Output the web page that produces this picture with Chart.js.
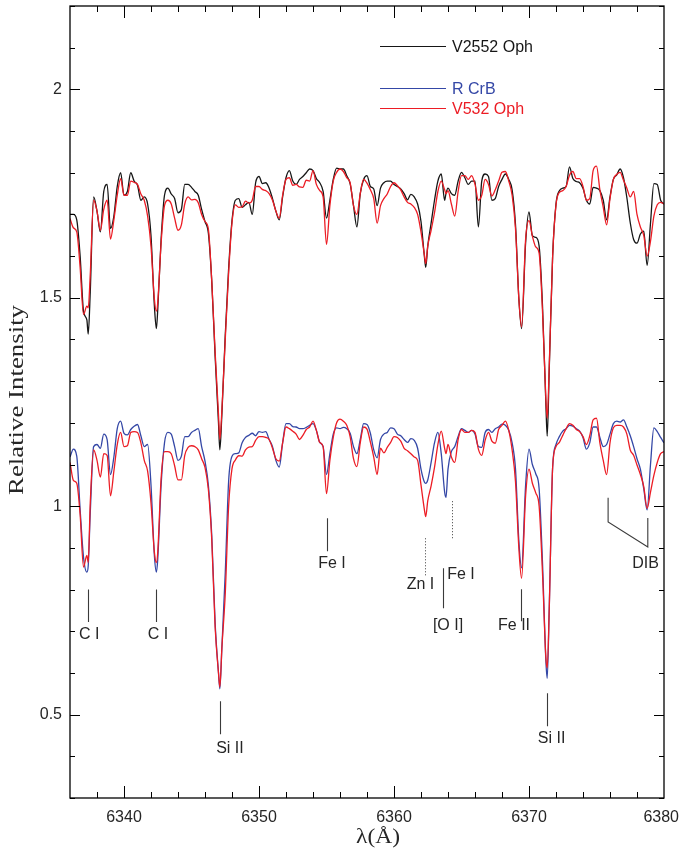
<!DOCTYPE html>
<html>
<head>
<meta charset="utf-8">
<script src="https://cdn.jsdelivr.net/npm/chart.js@4/dist/chart.umd.min.js"></script>
<style>
  html, body { margin: 0; padding: 0; background: #fff; }
  #wrap { width: 680px; height: 852px; }
</style>
</head>
<body>
<div id="wrap"><canvas id="spectrumChart"></canvas></div>
<script>
// wavelength grid (Angstrom)
const wavelength = [
  6336.0, 6336.25, 6336.5, 6336.75, 6337.0, 6337.25, 6337.35, 6337.5, 6337.75, 6338.0,
  6338.25, 6338.5, 6338.75, 6339.0, 6339.25, 6339.5, 6339.75, 6340.0, 6340.25, 6340.5,
  6340.75, 6341.0, 6341.25, 6341.5, 6341.75, 6342.0, 6342.25, 6342.4, 6342.5, 6342.75,
  6343.0, 6343.25, 6343.5, 6343.75, 6344.0, 6344.25, 6344.5, 6344.75, 6345.0, 6345.25,
  6345.5, 6345.75, 6346.0, 6346.25, 6346.5, 6346.75, 6347.0, 6347.1, 6347.25, 6347.5,
  6347.75, 6348.0, 6348.25, 6348.5, 6348.75, 6349.0, 6349.25, 6349.5, 6349.75, 6350.0,
  6350.25, 6350.5, 6350.75, 6351.0, 6351.25, 6351.5, 6351.75, 6352.0, 6352.25, 6352.5,
  6352.75, 6353.0, 6353.25, 6353.5, 6353.75, 6354.0, 6354.25, 6354.5, 6354.75, 6355.0,
  6355.25, 6355.5, 6355.75, 6356.0, 6356.25, 6356.5, 6356.75, 6357.0, 6357.25, 6357.5,
  6357.75, 6358.0, 6358.25, 6358.5, 6358.75, 6359.0, 6359.25, 6359.5, 6359.75, 6360.0,
  6360.25, 6360.5, 6360.75, 6361.0, 6361.25, 6361.5, 6361.75, 6362.0, 6362.25, 6362.35,
  6362.5, 6362.75, 6363.0, 6363.25, 6363.5, 6363.75, 6363.85, 6364.0, 6364.25, 6364.5,
  6364.75, 6365.0, 6365.25, 6365.5, 6365.75, 6366.0, 6366.25, 6366.5, 6366.75, 6367.0,
  6367.25, 6367.5, 6367.75, 6368.0, 6368.25, 6368.5, 6368.75, 6369.0, 6369.25, 6369.45,
  6369.75, 6370.0, 6370.25, 6370.5, 6370.75, 6371.0, 6371.25, 6371.35, 6371.5, 6371.75,
  6372.0, 6372.25, 6372.5, 6372.75, 6373.0, 6373.25, 6373.5, 6373.75, 6374.0, 6374.25,
  6374.5, 6374.75, 6375.0, 6375.25, 6375.5, 6375.75, 6376.0, 6376.25, 6376.5, 6376.75,
  6377.0, 6377.25, 6377.5, 6377.75, 6378.0, 6378.25, 6378.5, 6378.75, 6379.0, 6379.25,
  6379.5, 6379.75, 6380.0
];

// upper pair (offset spectra)
const v2552Oph = [
  1.700, 1.700, 1.687, 1.600, 1.468, 1.447, 1.413, 1.514, 1.742, 1.708,
  1.658, 1.755, 1.772, 1.666, 1.696, 1.767, 1.800, 1.746, 1.755, 1.800,
  1.780, 1.770, 1.734, 1.742, 1.725, 1.649, 1.481, 1.426, 1.472, 1.641,
  1.746, 1.763, 1.749, 1.738, 1.704, 1.712, 1.772, 1.772, 1.765, 1.755,
  1.746, 1.712, 1.683, 1.655, 1.540, 1.360, 1.200, 1.135, 1.220, 1.410,
  1.570, 1.685, 1.734, 1.738, 1.717, 1.723, 1.729, 1.700, 1.776, 1.791,
  1.774, 1.776, 1.763, 1.738, 1.708, 1.687, 1.742, 1.788, 1.805, 1.780,
  1.772, 1.784, 1.791, 1.800, 1.809, 1.805, 1.786, 1.776, 1.755, 1.691,
  1.734, 1.784, 1.811, 1.809, 1.809, 1.793, 1.774, 1.721, 1.670, 1.750,
  1.784, 1.793, 1.767, 1.761, 1.721, 1.763, 1.776, 1.780, 1.780, 1.772,
  1.767, 1.761, 1.750, 1.735, 1.748, 1.742, 1.725, 1.683, 1.600, 1.573,
  1.624, 1.679, 1.734, 1.780, 1.797, 1.734, 1.750, 1.763, 1.750, 1.746,
  1.780, 1.801, 1.788, 1.772, 1.780, 1.780, 1.670, 1.780, 1.797, 1.791,
  1.734, 1.738, 1.767, 1.784, 1.797, 1.784, 1.759, 1.675, 1.497, 1.426,
  1.632, 1.706, 1.649, 1.645, 1.624, 1.481, 1.245, 1.168, 1.329, 1.599,
  1.725, 1.757, 1.763, 1.767, 1.814, 1.786, 1.779, 1.776, 1.763, 1.734,
  1.725, 1.765, 1.763, 1.757, 1.734, 1.687, 1.742, 1.784, 1.795, 1.809,
  1.788, 1.740, 1.680, 1.640, 1.631, 1.653, 1.660, 1.578, 1.679, 1.774,
  1.772, 1.734, 1.725
];

const v532OphTop = [
  1.690, 1.668, 1.658, 1.573, 1.460, 1.480, 1.476, 1.556, 1.734, 1.708,
  1.662, 1.712, 1.734, 1.641, 1.687, 1.746, 1.786, 1.746, 1.746, 1.780,
  1.777, 1.772, 1.749, 1.734, 1.696, 1.624, 1.497, 1.468, 1.489, 1.632,
  1.721, 1.734, 1.725, 1.691, 1.662, 1.675, 1.725, 1.742, 1.735, 1.736,
  1.728, 1.700, 1.683, 1.665, 1.540, 1.370, 1.220, 1.160, 1.230, 1.400,
  1.560, 1.680, 1.723, 1.717, 1.718, 1.732, 1.727, 1.734, 1.767, 1.767,
  1.760, 1.757, 1.750, 1.734, 1.708, 1.691, 1.746, 1.784, 1.788, 1.770,
  1.772, 1.766, 1.765, 1.782, 1.780, 1.805, 1.772, 1.757, 1.742, 1.628,
  1.721, 1.780, 1.801, 1.809, 1.803, 1.788, 1.776, 1.721, 1.700, 1.750,
  1.784, 1.775, 1.759, 1.738, 1.679, 1.721, 1.738, 1.749, 1.767, 1.776,
  1.769, 1.759, 1.742, 1.729, 1.725, 1.717, 1.700, 1.658, 1.603, 1.582,
  1.624, 1.662, 1.704, 1.755, 1.780, 1.759, 1.750, 1.757, 1.725, 1.696,
  1.755, 1.793, 1.793, 1.784, 1.793, 1.772, 1.734, 1.746, 1.784, 1.772,
  1.744, 1.759, 1.780, 1.801, 1.803, 1.780, 1.746, 1.666, 1.497, 1.430,
  1.641, 1.685, 1.648, 1.622, 1.607, 1.468, 1.257, 1.211, 1.337, 1.599,
  1.723, 1.753, 1.757, 1.767, 1.794, 1.803, 1.786, 1.786, 1.767, 1.734,
  1.738, 1.805, 1.816, 1.759, 1.717, 1.675, 1.738, 1.784, 1.796, 1.801,
  1.782, 1.763, 1.742, 1.755, 1.700, 1.670, 1.650, 1.600, 1.636, 1.696,
  1.723, 1.729, 1.725
];

// lower pair
const rCrB = [
  1.118, 1.137, 1.120, 0.992, 0.878, 0.842, 0.857, 0.983, 1.143, 1.148,
  1.139, 1.173, 1.160, 1.076, 1.118, 1.186, 1.204, 1.175, 1.171, 1.184,
  1.192, 1.196, 1.169, 1.143, 1.148, 1.051, 0.882, 0.842, 0.873, 1.051,
  1.152, 1.177, 1.173, 1.143, 1.110, 1.120, 1.167, 1.167, 1.177, 1.182,
  1.186, 1.143, 1.108, 1.050, 0.930, 0.720, 0.600, 0.562, 0.660, 0.840,
  1.060, 1.120, 1.126, 1.128, 1.152, 1.165, 1.170, 1.175, 1.169, 1.179,
  1.177, 1.179, 1.160, 1.143, 1.110, 1.094, 1.152, 1.198, 1.198, 1.191,
  1.190, 1.186, 1.186, 1.189, 1.194, 1.198, 1.182, 1.153, 1.143, 1.076,
  1.126, 1.173, 1.188, 1.186, 1.189, 1.186, 1.175, 1.143, 1.126, 1.160,
  1.198, 1.196, 1.175, 1.135, 1.116, 1.160, 1.173, 1.177, 1.188, 1.186,
  1.173, 1.169, 1.160, 1.153, 1.162, 1.158, 1.139, 1.089, 1.058, 1.055,
  1.063, 1.105, 1.152, 1.177, 1.126, 1.034, 1.021, 1.089, 1.131, 1.143,
  1.167, 1.186, 1.182, 1.177, 1.182, 1.173, 1.143, 1.141, 1.177, 1.184,
  1.177, 1.186, 1.190, 1.197, 1.194, 1.182, 1.152, 1.089, 0.916, 0.852,
  1.051, 1.137, 1.100, 1.078, 1.042, 0.865, 0.629, 0.587, 0.755, 1.093,
  1.148, 1.167, 1.180, 1.186, 1.194, 1.192, 1.186, 1.180, 1.165, 1.137,
  1.152, 1.190, 1.190, 1.165, 1.143, 1.148, 1.173, 1.198, 1.204, 1.202,
  1.207, 1.190, 1.169, 1.143, 1.114, 1.089, 1.042, 0.991, 1.100, 1.188,
  1.179, 1.165, 1.152
];

const v532OphBottom = [
  1.105, 1.062, 1.055, 0.980, 0.854, 0.882, 0.865, 1.008, 1.135, 1.110,
  1.070, 1.126, 1.122, 1.025, 1.084, 1.148, 1.177, 1.143, 1.145, 1.177,
  1.179, 1.177, 1.152, 1.110, 1.084, 1.008, 0.890, 0.865, 0.890, 1.067,
  1.131, 1.131, 1.126, 1.097, 1.063, 1.063, 1.122, 1.141, 1.145, 1.143,
  1.135, 1.114, 1.093, 1.040, 0.920, 0.710, 0.600, 0.566, 0.660, 0.790,
  1.000, 1.090, 1.111, 1.121, 1.120, 1.135, 1.142, 1.143, 1.158, 1.167,
  1.167, 1.165, 1.160, 1.139, 1.114, 1.108, 1.152, 1.190, 1.186, 1.180,
  1.173, 1.160, 1.170, 1.184, 1.190, 1.204, 1.182, 1.153, 1.143, 1.030,
  1.110, 1.165, 1.200, 1.209, 1.204, 1.194, 1.167, 1.114, 1.095, 1.152,
  1.190, 1.185, 1.154, 1.118, 1.076, 1.139, 1.128, 1.141, 1.153, 1.167,
  1.165, 1.156, 1.139, 1.133, 1.126, 1.118, 1.110, 1.051, 0.992, 0.975,
  1.013, 1.049, 1.093, 1.148, 1.180, 1.139, 1.126, 1.148, 1.118, 1.105,
  1.160, 1.184, 1.177, 1.177, 1.182, 1.177, 1.137, 1.122, 1.158, 1.177,
  1.156, 1.151, 1.184, 1.194, 1.204, 1.182, 1.135, 1.059, 0.899, 0.827,
  1.025, 1.089, 1.055, 1.032, 1.000, 0.840, 0.637, 0.612, 0.755, 1.093,
  1.143, 1.153, 1.170, 1.186, 1.198, 1.194, 1.184, 1.179, 1.167, 1.148,
  1.169, 1.207, 1.211, 1.152, 1.110, 1.076, 1.152, 1.188, 1.194, 1.194,
  1.190, 1.173, 1.135, 1.122, 1.099, 1.076, 1.047, 0.995, 1.034, 1.074,
  1.105, 1.126, 1.131
];

const xMajorTicks = [6340, 6350, 6360, 6370, 6380];
const xTickLabels = ['6340', '6350', '6360', '6370', '6380'];
const yMajorTicks = [0.5, 1, 1.5, 2];
const yTickLabels = ['0.5', '1', '1.5', '2'];

const BLACK = '#161616';
const BLUE = '#3447a6';
const RED = '#ec1c24';
const INK = '#262626';

// line identifications: marker at wavelength x from value y1 to y2, text at (tx, ty)
const lineIds = [
  { text: 'C I',   x: 6337.3,  y1: 0.800, y2: 0.722, tx: 6337.42, ty: 0.692 },
  { text: 'C I',   x: 6342.4,  y1: 0.800, y2: 0.722, tx: 6342.52, ty: 0.692 },
  { text: 'Si II', x: 6347.1,  y1: 0.532, y2: 0.453, tx: 6347.85, ty: 0.419 },
  { text: 'Fe I',  x: 6355.03, y1: 0.971, y2: 0.892, tx: 6355.41, ty: 0.863 },
  { text: 'Fe II', x: 6369.44, y1: 0.801, y2: 0.724, tx: 6368.89, ty: 0.714 },
  { text: 'Si II', x: 6371.35, y1: 0.551, y2: 0.472, tx: 6371.67, ty: 0.443 }
];
const dottedIds = [
  { x: 6362.3,  y1: 0.923, y2: 0.832 },
  { x: 6364.32, y1: 1.012, y2: 0.923 }
];
const extraText = [
  { text: 'Zn I',  tx: 6361.96, ty: 0.813 },
  { text: 'Fe I',  tx: 6364.96, ty: 0.837 },
  { text: '[O I]', tx: 6364.0,  ty: 0.714 },
  { text: 'DIB',   tx: 6378.63, ty: 0.863 }
];
const separator = { x: 6363.65, y1: 0.851, y2: 0.755 };
const dibBracket = [[6375.86, 1.020], [6375.86, 0.962], [6378.8, 0.902], [6378.8, 0.972]];

function toPoints(values) {
  return values.map((v, i) => ({ x: wavelength[i], y: v }));
}

const decorPlugin = {
  id: 'decor',
  afterDatasetsDraw(chart) {
    const { ctx, chartArea: a } = chart;
    const x = chart.scales.x;
    const y = chart.scales.y;
    const px = v => x.getPixelForValue(v);
    const py = v => y.getPixelForValue(v);

    ctx.save();

    // frame
    ctx.strokeStyle = '#000';
    ctx.lineWidth = 1.3;
    ctx.strokeRect(a.left, a.top, a.right - a.left, a.bottom - a.top);

    // inward ticks, top/bottom and left/right
    ctx.lineWidth = 1;
    ctx.beginPath();
    for (let w = 6338; w <= 6378; w += 2) {
      const xx = Math.round(px(w)) + 0.5;
      const len = xMajorTicks.includes(w) ? 12 : 6;
      ctx.moveTo(xx, a.bottom); ctx.lineTo(xx, a.bottom - len);
      ctx.moveTo(xx, a.top); ctx.lineTo(xx, a.top + len);
    }
    for (let i = 3; i <= 22; i++) {
      const yy = Math.round(py(i / 10)) + 0.5;
      const len = i % 5 === 0 ? 10 : 5;
      ctx.moveTo(a.left, yy); ctx.lineTo(a.left + len, yy);
      ctx.moveTo(a.right, yy); ctx.lineTo(a.right - len, yy);
    }
    ctx.stroke();

    // tick labels
    ctx.fillStyle = INK;
    ctx.font = '16px "Liberation Sans", Arial, sans-serif';
    ctx.textAlign = 'center';
    ctx.textBaseline = 'middle';
    xMajorTicks.forEach((w, i) => {
      const half = ctx.measureText(xTickLabels[i]).width / 2;
      const cx = Math.min(px(w), chart.width - half - 1);
      ctx.fillText(xTickLabels[i], cx, a.bottom + 20);
    });
    ctx.textAlign = 'right';
    yMajorTicks.forEach((v, i) => ctx.fillText(yTickLabels[i], a.left - 8, py(v)));

    // axis titles (serif, slightly stretched like the original)
    ctx.textAlign = 'center';
    ctx.font = '20px "Liberation Serif", "Times New Roman", serif';
    ctx.save();
    ctx.translate(18, 400);
    ctx.rotate(-Math.PI / 2);
    let tw = ctx.measureText('Relative Intensity').width;
    ctx.scale(190 / tw, 1);
    ctx.fillText('Relative Intensity', 0, 0);
    ctx.restore();

    ctx.save();
    ctx.translate(378, 838);
    tw = ctx.measureText('λ(Å)').width;
    ctx.scale(44 / tw, 1);
    ctx.fillText('λ(Å)', 0, 0);
    ctx.restore();

    // legend
    ctx.font = '16px "Liberation Sans", Arial, sans-serif';
    ctx.textAlign = 'left';
    const legendRows = [
      { ds: 1, yy: 46.5, color: BLACK },
      { ds: 3, yy: 88.5, color: BLUE },
      { ds: 0, yy: 108.5, color: RED }
    ];
    legendRows.forEach(r => {
      ctx.strokeStyle = r.color;
      ctx.lineWidth = 1.2;
      ctx.beginPath();
      ctx.moveTo(380, r.yy); ctx.lineTo(446, r.yy);
      ctx.stroke();
      ctx.fillStyle = r.color;
      ctx.fillText(chart.data.datasets[r.ds].label, 452, r.yy + 1);
    });

    // line identifications
    ctx.strokeStyle = '#3a3a3a';
    ctx.lineWidth = 1.1;
    ctx.beginPath();
    lineIds.forEach(m => {
      const xx = Math.round(px(m.x)) + 0.5;
      ctx.moveTo(xx, py(m.y1)); ctx.lineTo(xx, py(m.y2));
    });
    const sx = Math.round(px(separator.x)) + 0.5;
    ctx.moveTo(sx, py(separator.y1)); ctx.lineTo(sx, py(separator.y2));
    dibBracket.forEach((p, i) => {
      if (i === 0) ctx.moveTo(px(p[0]), py(p[1]));
      else ctx.lineTo(px(p[0]), py(p[1]));
    });
    ctx.stroke();

    ctx.setLineDash([1, 2]);
    ctx.lineWidth = 1;
    ctx.beginPath();
    dottedIds.forEach(m => {
      const xx = Math.round(px(m.x)) + 0.5;
      ctx.moveTo(xx, py(m.y1)); ctx.lineTo(xx, py(m.y2));
    });
    ctx.stroke();
    ctx.setLineDash([]);

    ctx.fillStyle = INK;
    ctx.textAlign = 'center';
    lineIds.concat(extraText).forEach(t => ctx.fillText(t.text, px(t.tx), py(t.ty)));

    ctx.restore();
  }
};

const ctx = document.getElementById('spectrumChart').getContext('2d');
new Chart(ctx, {
  type: 'line',
  data: {
    datasets: [
      { label: 'V532 Oph', data: toPoints(v532OphTop), borderColor: RED, order: 1 },
      { label: 'V2552 Oph', data: toPoints(v2552Oph), borderColor: BLACK, order: 2 },
      { label: 'V532 Oph', data: toPoints(v532OphBottom), borderColor: RED, order: 3 },
      { label: 'R CrB', data: toPoints(rCrB), borderColor: BLUE, order: 4 }
    ]
  },
  options: {
    responsive: true,
    maintainAspectRatio: false,
    animation: false,
    layout: { padding: { left: 70, right: 16, top: 6, bottom: 54 } },
    elements: {
      point: { radius: 0 },
      line: { borderWidth: 1.3, cubicInterpolationMode: 'monotone', fill: false }
    },
    scales: {
      x: { type: 'linear', min: 6336, max: 6380, display: false },
      y: { type: 'linear', min: 0.3, max: 2.2, display: false }
    },
    plugins: {
      legend: { display: false },
      tooltip: { enabled: false }
    }
  },
  plugins: [decorPlugin]
});
</script>
</body>
</html>
